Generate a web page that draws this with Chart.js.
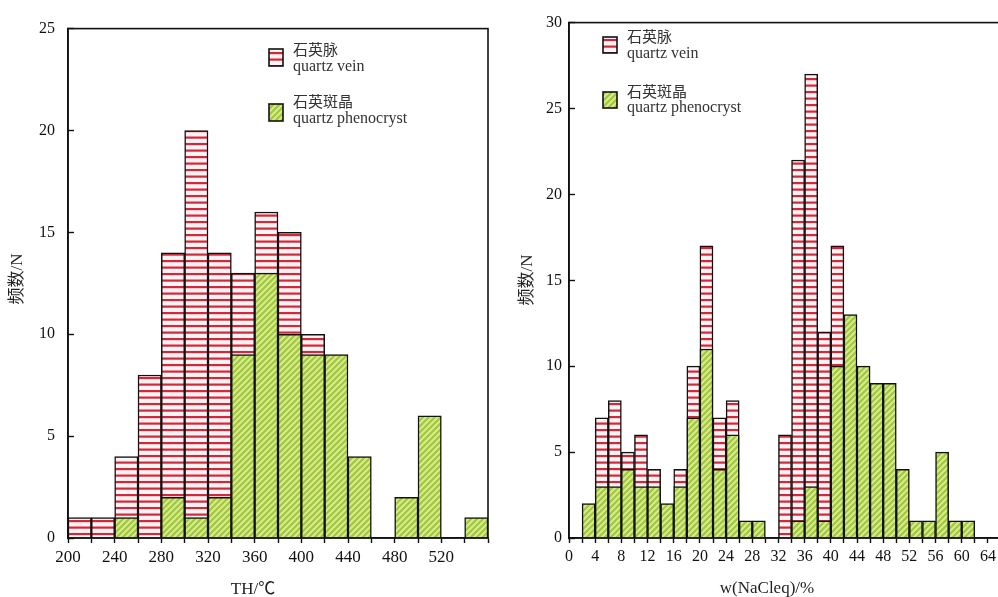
<!DOCTYPE html>
<html><head><meta charset="utf-8">
<script src="https://cdn.jsdelivr.net/npm/chart.js@4.4.1/dist/chart.umd.min.js"></script>
<style>
html,body{margin:0;padding:0;background:#fff;overflow:hidden;width:998px;height:597px;position:relative;}
#l{position:absolute;left:0;top:0;width:500px;height:610px;}
#r{position:absolute;left:500px;top:0;width:512px;height:610px;}
</style></head><body>
<div id="l"><canvas id="c1"></canvas></div>
<div id="r"><canvas id="c2"></canvas></div>
<script>
// ---- Left panel: homogenization temperature TH (°C), bins of 20 ----
const thBinStarts = [200,220,240,260,280,300,320,340,360,380,400,420,440,460,480,500,520,540];
const thVein      = [1,1,4,8,14,20,14,13,16,15,10,null,null,null,null,null,null,null];
const thPheno     = [null,null,1,null,2,1,2,9,13,10,9,9,4,null,2,6,null,1];
const thTickLabels = [200,240,280,320,360,400,440,480,520];
const thYTicks = [0,5,10,15,20,25];

// ---- Right panel: salinity w(NaCleq) (%), bins of 2 ----
const salBinStarts = [2,4,6,8,10,12,14,16,18,20,22,24,26,28,30,32,34,36,38,40,42,44,46,48,50,52,54,56,58,60];
const salVein      = [null,7,8,5,6,4,null,4,10,17,7,8,null,null,null,6,22,27,12,17,null,null,null,null,null,null,null,null,null,null];
const salPheno     = [2,3,3,4,3,3,2,3,7,11,4,6,1,1,null,null,1,3,1,10,13,10,9,9,4,1,1,5,1,1];
const salTickLabels = [0,4,8,12,16,20,24,28,32,36,40,44,48,52,56,60,64];
const salYTicks = [0,5,10,15,20,25,30];

const legendVein = ['石英脉','quartz vein'];
const legendPheno = ['石英斑晶','quartz phenocryst'];
const yTitle = '频数/N';
const thXTitle = 'TH/℃';
const salXTitle = 'w(NaCleq)/%';

const SERIF = '"Liberation Serif","Noto Sans CJK SC",serif';
const CJK = '"Noto Sans CJK SC","Liberation Serif",sans-serif';

function veinPattern(){
  const c=document.createElement('canvas'); c.width=8; c.height=13;
  const g=c.getContext('2d');
  g.fillStyle='#fff3f3'; g.fillRect(0,0,8,13);
  g.fillStyle='#d2283c'; g.fillRect(0,0,8,2.2); g.fillRect(0,6.5,8,2.2);
  return g.createPattern(c,'repeat');
}
function phenoPattern(){
  const c=document.createElement('canvas'); c.width=6; c.height=6;
  const g=c.getContext('2d');
  g.fillStyle='#d6eb92'; g.fillRect(0,0,6,6);
  g.strokeStyle='#a2c83a'; g.lineWidth=2.2;
  g.beginPath();
  g.moveTo(-1,7); g.lineTo(7,-1);
  g.moveTo(-1,1); g.lineTo(1,-1);
  g.moveTo(5,7); g.lineTo(7,5);
  g.stroke();
  return g.createPattern(c,'repeat');
}
const VP = veinPattern(), PP = phenoPattern();

function toPoints(starts, vals, w){ return starts.map((s,i)=>({x:s+w/2, y:vals[i]})); }

function extras(cfg){
  return {
    id:'extras',
    afterDatasetsDraw(chart){
      const {ctx, chartArea:a} = chart;
      ctx.save();
      ctx.strokeStyle='#111'; ctx.lineWidth=1.6;
      ctx.strokeRect(a.left, a.top, a.right-a.left, a.bottom-a.top);
      // legend
      const items=[[VP,legendVein,cfg.lg[0]],[PP,legendPheno,cfg.lg[1]]];
      items.forEach(([pat,txt,p])=>{
        ctx.fillStyle=pat; ctx.fillRect(p.sx,p.sy,14,p.sh);
        ctx.strokeStyle='#111'; ctx.lineWidth=1.6; ctx.strokeRect(p.sx,p.sy,14,p.sh);
        ctx.fillStyle='#333'; ctx.textAlign='left'; ctx.textBaseline='middle';
        ctx.font='15px '+CJK; ctx.fillText(txt[0], p.tx, p.y1);
        ctx.font='16px '+SERIF; ctx.fillText(txt[1], p.tx, p.y2);
      });
      // axis titles
      ctx.fillStyle='#222'; ctx.textAlign='center'; ctx.textBaseline='middle';
      ctx.font='17px '+SERIF;
      ctx.fillText(cfg.xt, cfg.xtx, cfg.xty);
      ctx.translate(cfg.ytx, cfg.yty); ctx.rotate(-Math.PI/2);
      ctx.fillText(yTitle, 0, 0);
      ctx.restore();
    }
  };
}

function makeChart(id, starts, vein, pheno, w, xmin, xmax, ymax, yTicks, tickLabels, pad, yW, yPad, xFont, cfg){
  return new Chart(document.getElementById(id), {
    type:'bar',
    data:{datasets:[
      {label:legendVein[1], data:toPoints(starts,vein,w), backgroundColor:VP, borderColor:'#111', borderWidth:1.5, grouped:false, order:1, barPercentage:1, categoryPercentage:1},
      {label:legendPheno[1], data:toPoints(starts,pheno,w), backgroundColor:PP, borderColor:'#111', borderWidth:1.5, grouped:false, order:0, barPercentage:1, categoryPercentage:1}
    ]},
    options:{
      responsive:true, maintainAspectRatio:false, animation:false,
      layout:{padding:pad},
      plugins:{legend:{display:false}, tooltip:{enabled:false}},
      scales:{
        x:{type:'linear', min:xmin, max:xmax, offset:false,
           grid:{drawOnChartArea:false, offset:false, color:'#111', tickLength:5, tickWidth:1.4},
           border:{display:true, color:'#111', width:1.6},
           ticks:{stepSize:w, autoSkip:false, maxRotation:0, padding:4, color:'#111',
                  font:{family:SERIF, size:xFont},
                  callback:(v)=> tickLabels.includes(v) ? String(v) : ''},
           afterFit:(s)=>{ s.height = 72; }
        },
        y:{min:0, max:ymax,
           grid:{drawOnChartArea:false, color:'#111', tickLength:-6, tickWidth:1.4},
           border:{display:true, color:'#111', width:1.6},
           afterBuildTicks:(s)=>{ s.ticks = yTicks.map(v=>({value:v})); },
           ticks:{padding:yPad, color:'#111', font:{family:SERIF, size:16}},
           afterFit:(s)=>{ s.width = yW; }
        }
      }
    },
    plugins:[extras(cfg)]
  });
}

makeChart('c1', thBinStarts, thVein, thPheno, 20, 200, 560, 25, thYTicks, thTickLabels,
  {top:21, right:12, left:0, bottom:0}, 68, 19, 17,
  {lg:[{sx:269,sy:49,sh:17,tx:293,y1:49,y2:67},{sx:269,sy:104,sh:17,tx:293,y1:101,y2:119}],
   xt:thXTitle, xtx:253, xty:590, ytx:18, yty:279});

makeChart('c2', salBinStarts, salVein, salPheno, 2, 0, 66, 30, salYTicks, salTickLabels,
  {top:18, right:11, left:0, bottom:0}, 69, 13, 16,
  {lg:[{sx:103,sy:37,sh:16,tx:127,y1:36,y2:54},{sx:103,sy:92,sh:16,tx:127,y1:91,y2:108}],
   xt:salXTitle, xtx:267, xty:589, ytx:28, yty:280});
</script>
</body></html>
